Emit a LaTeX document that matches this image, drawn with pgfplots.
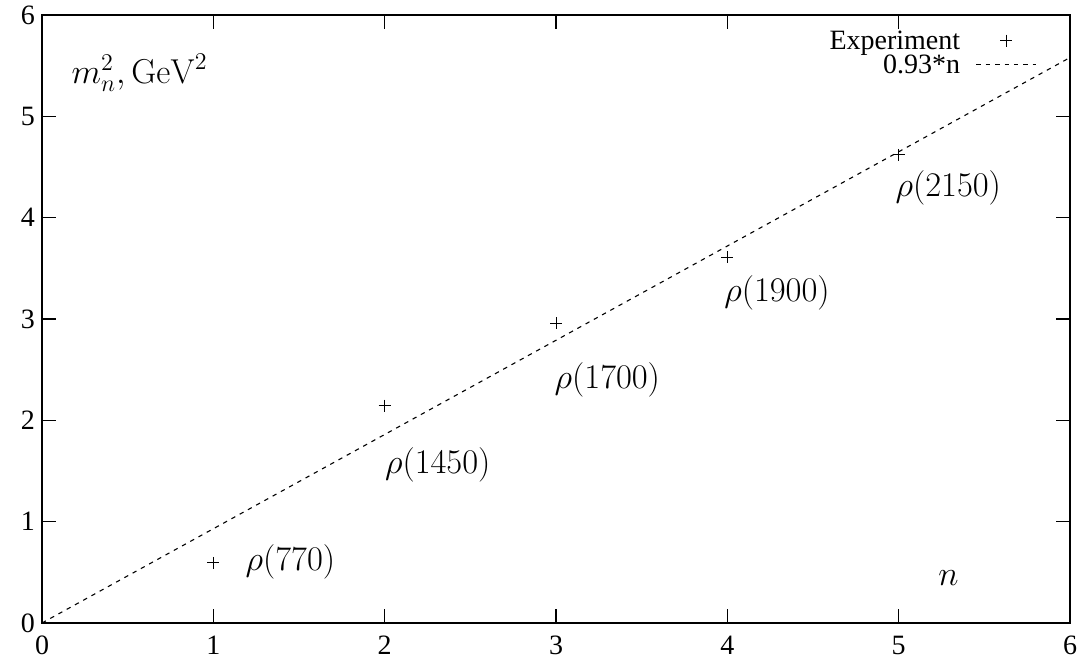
\documentclass[border=0pt]{standalone}
\usepackage[no-math]{fontspec}
\setmainfont{Liberation Serif}
\usepackage{pgfplots}
\pgfplotsset{compat=1.18}

\begin{document}
\begin{tikzpicture}
\begin{axis}[
  name=ax,
  scale only axis,
  width=514pt, height=304pt,
  xmin=0, xmax=6, ymin=0, ymax=6,
  xtick={0,...,6}, ytick={0,...,6},
  tick pos=both, tick align=inside,
  major tick length=7pt,
  axis line style={line width=1pt},
  every tick/.style={black, line width=0.6pt},
  font=\fontsize{14}{16}\selectfont,
  /pgf/number format/assume math mode=true,
  xticklabel style={yshift=-3pt},
  legend cell align=right,
  legend plot pos=right,
  legend style={draw=none, fill=none, at={(rel axis cs:0.974,0.985)}, anchor=north east,
    font=\fontsize{14}{14}\selectfont, row sep=0pt,
    nodes={text height=9.5pt, text depth=1pt, inner sep=0.8pt},
    /tikz/every odd column/.append style={column sep=7pt}},
  legend image code/.code={\draw[mark repeat=2,mark phase=2,#1] plot coordinates {(0pt,0pt) (15pt,0pt) (30pt,0pt)};},
]
\addplot[only marks, mark=+, mark size=3pt, black, line width=0.5pt]
  coordinates {(1,0.593) (2,2.146) (3,2.958) (4,3.61) (5,4.62)};
\addlegendentry{Experiment}
\addplot[black, line width=0.55pt, dash pattern=on 2.2pt off 2.5pt]
  coordinates {(0,0) (6,5.58)};
\addlegendentry{0.93*n}

\node[font=\fontsize{17}{18}\selectfont] at (axis cs:0.57,5.43) {$m_n^2, \mathrm{GeV}^2$};
\node[font=\fontsize{17}{18}\selectfont] at (axis cs:1.45,0.6) {$\rho(770)$};
\node[font=\fontsize{17}{18}\selectfont] at (axis cs:2.31,1.56) {$\rho(1450)$};
\node[font=\fontsize{17}{18}\selectfont] at (axis cs:3.30,2.40) {$\rho(1700)$};
\node[font=\fontsize{17}{18}\selectfont] at (axis cs:4.29,3.26) {$\rho(1900)$};
\node[font=\fontsize{17}{18}\selectfont] at (axis cs:5.29,4.29) {$\rho(2150)$};
\node[font=\fontsize{17}{18}\selectfont] at (axis cs:5.29,0.44) {$n$};
\end{axis}
\pgfresetboundingbox
\path ([shift={(-21pt,-18pt)}]ax.south west) rectangle ([shift={(5pt,7.5pt)}]ax.north east);
\end{tikzpicture}
\end{document}
